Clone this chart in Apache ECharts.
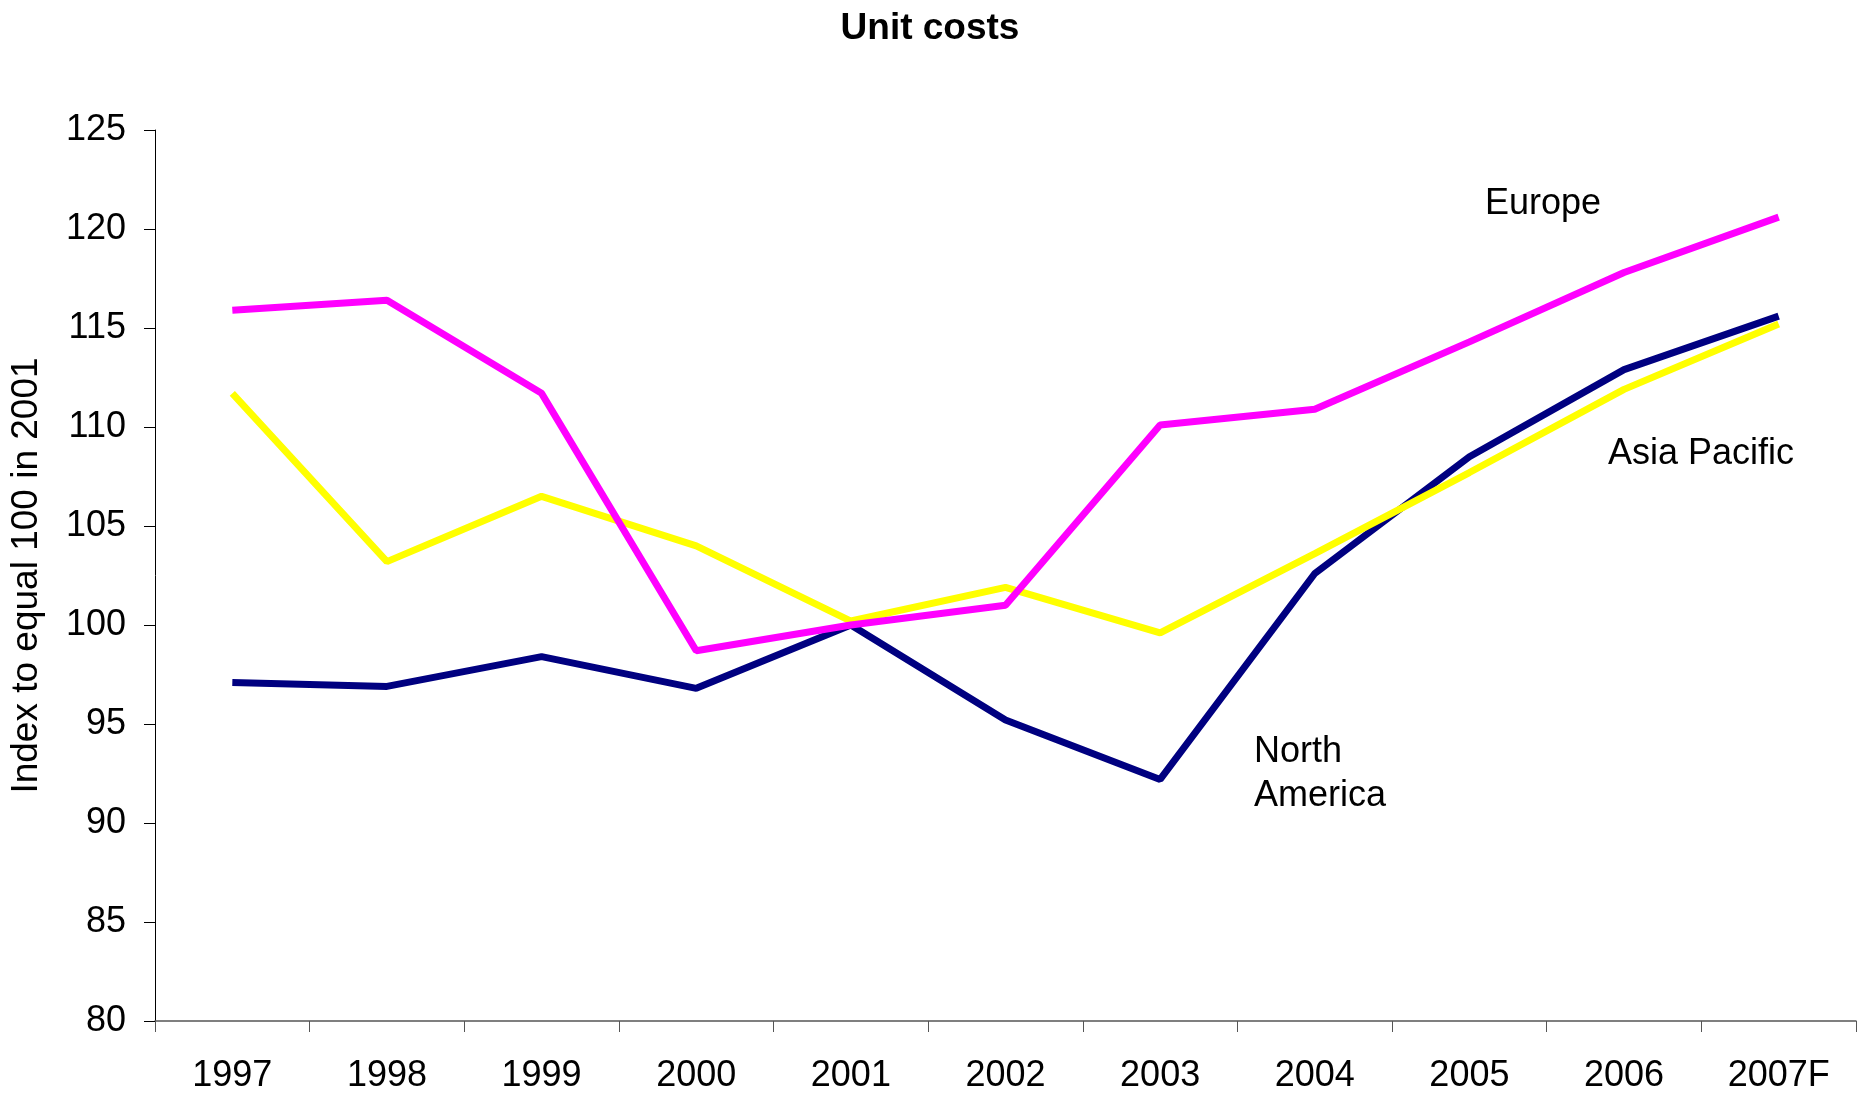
<!DOCTYPE html>
<html>
<head>
<meta charset="utf-8">
<script src="https://cdn.jsdelivr.net/npm/echarts@6/dist/echarts.min.js"></script>
<style>
html,body{margin:0;padding:0;background:#fff;}
#chart{width:1860px;height:1094px;}
</style>
</head>
<body>
<div id="chart"></div>
<script>
const years = ['1997','1998','1999','2000','2001','2002','2003','2004','2005','2006','2007F'];
const europe = [115.9, 116.4, 111.7, 98.7, 100.0, 101.0, 110.1, 110.9, 114.3, 117.8, 120.6];
const asiaPacific = [111.7, 103.2, 106.5, 104.0, 100.2, 101.9, 99.6, 103.6, 107.7, 111.9, 115.2];
const northAmerica = [97.1, 96.9, 98.4, 96.8, 100.0, 95.2, 92.2, 102.6, 108.5, 112.9, 115.6];
const yTicks = {min: 80, max: 125, interval: 5};

const FONT = '"Liberation Sans", Arial, sans-serif';
const chart = echarts.init(document.getElementById('chart'));
chart.setOption({
  backgroundColor: '#fff',
  animation: false,
  title: {
    text: 'Unit costs',
    left: 'center',
    top: 5,
    textStyle: {fontFamily: FONT, fontWeight: 'bold', fontSize: 37, color: '#000'}
  },
  grid: {left: 154, right: 4, top: 130, bottom: 70},
  xAxis: {
    type: 'category',
    data: years,
    boundaryGap: true,
    axisLine: {lineStyle: {color: '#555', width: 1.5}},
    axisTick: {show: true, length: 11, alignWithLabel: false, lineStyle: {color: '#555'}},
    axisLabel: {fontFamily: FONT, fontSize: 36, color: '#000', margin: 37, interval: 0}
  },
  yAxis: {
    type: 'value',
    min: yTicks.min, max: yTicks.max, interval: yTicks.interval,
    name: 'Index to equal 100 in 2001',
    nameLocation: 'middle',
    nameGap: 110,
    nameRotate: 90,
    nameTextStyle: {fontFamily: FONT, fontSize: 37, color: '#000'},
    axisLine: {show: true, lineStyle: {color: '#000', width: 1}},
    axisTick: {show: true, length: 11, lineStyle: {color: '#000'}},
    splitLine: {show: false},
    axisLabel: {fontFamily: FONT, fontSize: 36, color: '#000', margin: 29}
  },
  series: [
    {name: 'North America', type: 'line', data: northAmerica, symbol: 'none',
     lineStyle: {color: '#000080', width: 7}, z: 2},
    {name: 'Asia Pacific', type: 'line', data: asiaPacific, symbol: 'none',
     lineStyle: {color: '#FFFF00', width: 7}, z: 3},
    {name: 'Europe', type: 'line', data: europe, symbol: 'none',
     lineStyle: {color: '#FF00FF', width: 7}, z: 4}
  ],
  graphic: [
    {type: 'text', left: 1485, top: 186,
     style: {text: 'Europe', fontFamily: FONT, fontSize: 36, fill: '#000'}},
    {type: 'text', left: 1608, top: 436,
     style: {text: 'Asia Pacific', fontFamily: FONT, fontSize: 36, fill: '#000'}},
    {type: 'text', left: 1254, top: 730,
     style: {text: 'North\nAmerica', fontFamily: FONT, fontSize: 36, lineHeight: 44, fill: '#000'}}
  ]
});
</script>
</body>
</html>
